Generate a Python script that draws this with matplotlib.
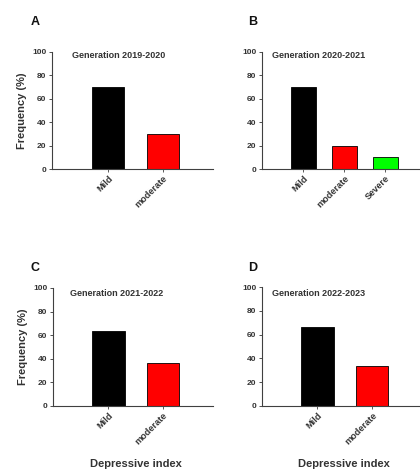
import matplotlib
matplotlib.use("Agg")
import matplotlib.pyplot as plt

plt.rcParams['font.family'] = ['Liberation Sans', 'DejaVu Sans']
plt.rcParams['font.weight'] = 'bold'

# Data
titles = ["Generation 2019-2020", "Generation 2020-2021",
          "Generation 2021-2022", "Generation 2022-2023"]
letters = ["A", "B", "C", "D"]
cats_a = ["Mild", "moderate"]
vals_a = [70, 30]
cats_b = ["Mild", "moderate", "Severe"]
vals_b = [70, 20, 10]
cats_c = ["Mild", "moderate"]
vals_c = [63.6, 36.4]
cats_d = ["Mild", "moderate"]
vals_d = [66.7, 33.3]
colors = ["#000000", "#ff0000", "#00ff00"]
yticks = [0, 20, 40, 60, 80, 100]

W, H = 420, 470
fig = plt.figure(figsize=(W / 100, H / 100), dpi=100)

def px_axes(x0, y0, x1, y1):
    return fig.add_axes([x0 / W, 1 - y1 / H, (x1 - x0) / W, (y1 - y0) / H])

panels = [
    (cats_a, vals_a, (52, 52, 213, 169), (-1.02, 1.91), 20, 55, (35, 22)),
    (cats_b, vals_b, (262, 52, 421, 169), (-1.01, 2.87), 10, 55, (253, 22)),
    (cats_c, vals_c, (53, 288, 213, 406), (-1.01, 1.91), 17, 293, (35, 268)),
    (cats_d, vals_d, (262, 287, 421, 406), (-1.01, 1.89), 10, 294, (253, 268)),
]

for i, (cats, vals, box, xl, toff, ty, lpos) in enumerate(panels):
    ax = px_axes(*box)
    xs = list(range(len(cats)))
    width = 0.6 if len(cats) == 3 else 0.59
    ax.bar(xs, vals, width=width, color=colors[:len(cats)],
           edgecolor="black", linewidth=0.6)
    ax.set_xlim(*xl)
    ax.set_ylim(0, 100)
    ax.set_yticks(yticks)
    ax.set_xticks(xs)
    ax.set_xticklabels(cats, rotation=45, ha="right", rotation_mode="anchor",
                       fontsize=6.6, color="#333333", fontweight="bold")
    ax.tick_params(axis="y", labelsize=6, colors="#333333", length=2,
                   width=0.6, pad=2)
    ax.tick_params(axis="x", length=2, width=0.6, colors="#404040", pad=1.5)
    for lab in ax.get_xticklabels():
        lab.set_color("#333333")
    for s in ["top", "right"]:
        ax.spines[s].set_visible(False)
    for s in ["left", "bottom"]:
        ax.spines[s].set_color("#404040")
        ax.spines[s].set_linewidth(0.8)
    x0, y0, x1, y1 = box
    fig.text((x0 + toff) / W, 1 - ty / H, titles[i], fontsize=6.5,
             fontweight="bold", color="#333333", ha="left", va="center")
    fig.text(lpos[0] / W, 1 - lpos[1] / H, letters[i], fontsize=9,
             fontweight="bold", color="#111111", ha="center", va="center")
    if i in (0, 2):
        ax.set_ylabel("Frequency (%)", fontsize=8, fontweight="bold",
                      color="#333333", labelpad=4)
    if i in (2, 3):
        cx = 136 if i == 2 else 344
        fig.text(cx / W, 1 - 464 / H, "Depressive index", fontsize=8,
                 fontweight="bold", color="#333333", ha="center", va="center")

fig.savefig("out.png", dpi=100)
